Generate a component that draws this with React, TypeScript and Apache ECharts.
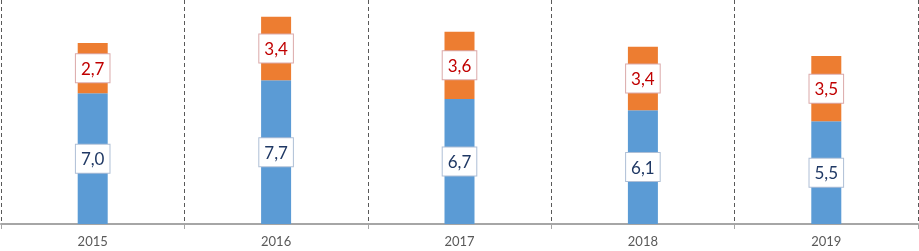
import React, { useEffect, useRef } from "react";
import * as echarts from "echarts";

const categories = ["2015", "2016", "2017", "2018", "2019"];
const blueValues = [7.0, 7.7, 6.7, 6.1, 5.5];
const orangeValues = [2.7, 3.4, 3.6, 3.4, 3.5];

const fmt = (v: number) => v.toFixed(1).replace(".", ",");

export default function App() {
  const ref = useRef<HTMLDivElement>(null);
  useEffect(() => {
    if (!ref.current) return;
    const chart = echarts.init(ref.current, null, { renderer: "svg" });
    const labelBase = {
      show: true,
      position: "inside" as const,
      backgroundColor: "#ffffff",
      borderWidth: 1,
      padding: [5, 5, 3, 5],
      lineHeight: 20,
      fontFamily: "Lato, 'Open Sans', sans-serif",
      fontSize: 17,
      formatter: (p: any) => fmt(p.value),
    };
    chart.setOption({
      animation: false,
      grid: { left: 1, right: 1, top: 0, bottom: 27, containLabel: false },
      xAxis: {
        type: "category",
        data: categories,
        boundaryGap: true,
        axisLine: { show: true, lineStyle: { color: "#a6a6a6", width: 2 } },
        axisTick: { show: true, length: 5, lineStyle: { color: "#a6a6a6", width: 1 } },
        axisLabel: {
          color: "#595959",
          fontSize: 13,
          fontFamily: "Lato, 'Open Sans', sans-serif",
          margin: 10,
        },
        splitLine: {
          show: true,
          lineStyle: { color: "#595959", type: [4, 3], width: 1 },
        },
      },
      yAxis: {
        type: "value",
        min: 0,
        max: 12,
        show: false,
        splitLine: { show: false },
      },
      series: [
        {
          type: "bar",
          stack: "total",
          data: blueValues,
          barWidth: 30,
          itemStyle: { color: "#5b9bd5" },
          label: { ...labelBase, color: "#1f3864", borderColor: "#aebfd6" },
        },
        {
          type: "bar",
          stack: "total",
          data: orangeValues,
          barWidth: 30,
          itemStyle: { color: "#ed7d31" },
          label: { ...labelBase, color: "#c00000", borderColor: "#dba9a9" },
        },
      ],
    });
    return () => chart.dispose();
  }, []);
  return (
    <div
      ref={ref}
      style={{ position: "fixed", left: 0, top: 0, width: 919, height: 251 }}
    />
  );
}
